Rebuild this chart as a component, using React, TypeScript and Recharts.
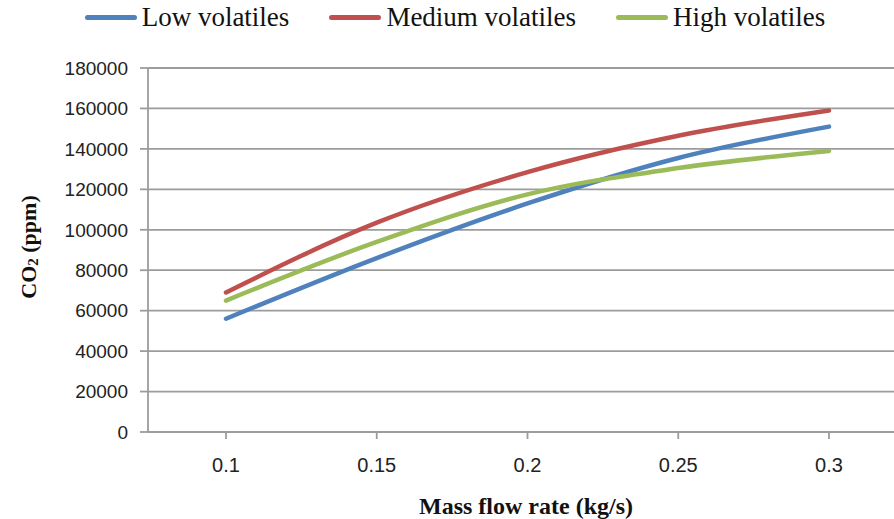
import React from "react";
import {
  CartesianGrid,
  Legend,
  Line,
  LineChart,
  XAxis,
  YAxis,
} from "recharts";

const flowRates = ["0.1", "0.15", "0.2", "0.25", "0.3"];
const lowVolatiles = [56000, 86000, 113000, 135500, 151000];
const mediumVolatiles = [69000, 103500, 128500, 146500, 159000];
const highVolatiles = [65000, 94000, 117500, 130500, 139000];
const yTicks = [0, 20000, 40000, 60000, 80000, 100000, 120000, 140000, 160000, 180000];

const seriesList = [
  { key: "low", name: "Low volatiles", color: "#4F81BD" },
  { key: "medium", name: "Medium volatiles", color: "#C0504D" },
  { key: "high", name: "High volatiles", color: "#9BBB59" },
];

const data = flowRates.map((rate, i) => ({
  rate,
  low: lowVolatiles[i],
  medium: mediumVolatiles[i],
  high: highVolatiles[i],
}));

const GRID = "#9c9c9c";
const TICK_FONT = "'Liberation Sans', Arial, sans-serif";
const SERIF = "'Liberation Serif', 'Times New Roman', serif";

const LegendRow = () => (
  <div
    style={{
      display: "flex",
      justifyContent: "center",
      gap: 40,
      fontFamily: SERIF,
      fontSize: 27,
      lineHeight: "29px",
      color: "#111",
    }}
  >
    {seriesList.map((s) => (
      <div key={s.key} style={{ display: "flex", alignItems: "center" }}>
        <span
          style={{
            display: "inline-block",
            width: 52,
            height: 5,
            borderRadius: 3,
            background: s.color,
            marginRight: 5,
          }}
        />
        <span>{s.name}</span>
      </div>
    ))}
  </div>
);

const YTitle = (props: any) => {
  const vb = props.viewBox || { x: 0, y: 68, width: 148, height: 364 };
  const cx = 28;
  const cy = vb.y + vb.height / 2 - 3;
  return (
    <text
      x={cx}
      y={cy}
      transform={`rotate(-90, ${cx}, ${cy})`}
      textAnchor="middle"
      dominantBaseline="central"
      fontFamily={SERIF}
      fontWeight="bold"
      fontSize={22}
      fill="#111"
    >
      CO
      <tspan fontSize={15} dy={5}>
        2
      </tspan>
      <tspan dy={-5}> (ppm)</tspan>
    </text>
  );
};

export default function App() {
  return (
    <div
      style={{
        position: "absolute",
        left: 0,
        top: 0,
        width: 894,
        height: 519,
        overflow: "hidden",
        background: "#fff",
      }}
    >
      <LineChart
        width={910}
        height={519}
        data={data}
        margin={{ top: 39, right: 6, bottom: 0, left: 0 }}
      >
        <CartesianGrid
          vertical={false}
          stroke={GRID}
          strokeWidth={1.8}
        />
        <XAxis
          dataKey="rate"
          height={87}
          padding={{ left: 78, right: 75 }}
          stroke={GRID}
          strokeWidth={1.8}
          tickSize={7}
          tickMargin={19}
          tick={{ fontSize: 20, fill: "#222", fontFamily: TICK_FONT }}
          label={{
            value: "Mass flow rate (kg/s)",
            position: "insideBottom",
            offset: 5,
            fontSize: 24,
            fontWeight: "bold",
            fontFamily: SERIF,
            fill: "#111",
          }}
        />
        <YAxis
          width={148}
          domain={[0, 180000]}
          ticks={yTicks}
          interval={0}
          stroke={GRID}
          strokeWidth={1.8}
          tickSize={8}
          tickMargin={12}
          tick={{ fontSize: 19, fill: "#222", fontFamily: TICK_FONT }}
          label={<YTitle />}
        />
        <Legend
          verticalAlign="top"
          content={() => <LegendRow />}
          wrapperStyle={{ top: 3, left: 0, width: 910 }}
        />
        {seriesList.map((s) => (
          <Line
            key={s.key}
            type="monotone"
            dataKey={s.key}
            name={s.name}
            stroke={s.color}
            strokeWidth={4.5}
            strokeLinecap="round"
            dot={false}
            activeDot={false}
            isAnimationActive={false}
          />
        ))}
      </LineChart>
    </div>
  );
}
